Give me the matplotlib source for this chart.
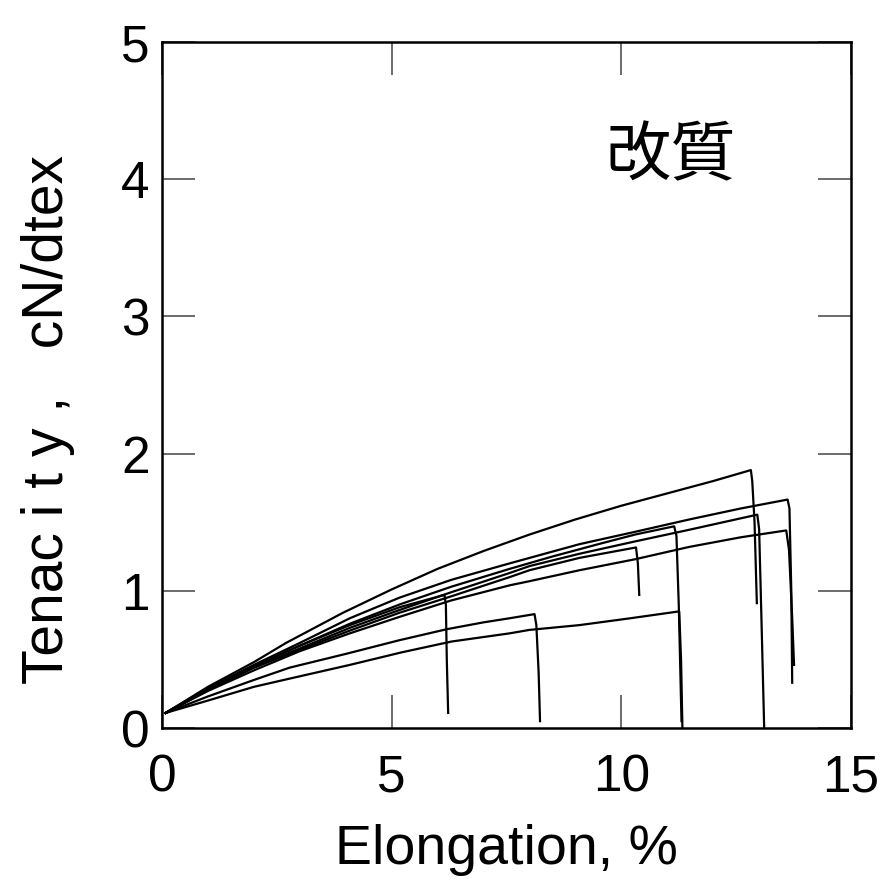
import matplotlib
matplotlib.use("Agg")
import matplotlib.pyplot as plt

# ---- data ----
curve_A_x = [0.08, 1.0, 2.0, 2.7, 3.94, 5.0, 6.0, 7.0, 8.0, 9.0, 10.0, 11.0, 12.0, 12.82, 12.85, 12.9, 12.95]
curve_A_y = [0.11, 0.30, 0.48, 0.62, 0.84, 1.01, 1.16, 1.29, 1.41, 1.52, 1.62, 1.71, 1.80, 1.88, 1.80, 1.50, 0.91]

curve_B_x = [0.08, 1.0, 2.0, 3.0, 4.09, 5.17, 6.3, 7.57, 9.09, 10.3, 11.48, 12.6, 13.62, 13.66, 13.70, 13.72]
curve_B_y = [0.11, 0.29, 0.46, 0.62, 0.80, 0.95, 1.08, 1.20, 1.34, 1.43, 1.52, 1.60, 1.665, 1.60, 1.00, 0.33]

curve_C_x = [0.08, 1.0, 2.0, 3.0, 4.09, 5.17, 6.3, 7.57, 8.0, 9.09, 10.3, 11.48, 12.96, 13.0, 13.05, 13.11]
curve_C_y = [0.11, 0.28, 0.44, 0.58, 0.73, 0.86, 0.99, 1.13, 1.18, 1.27, 1.36, 1.445, 1.555, 1.45, 0.80, 0.0]

curve_D_x = [0.08, 1.0, 2.0, 3.0, 4.09, 5.17, 6.3, 7.57, 8.0, 9.09, 10.3, 11.48, 12.6, 13.59, 13.65, 13.72, 13.76]
curve_D_y = [0.11, 0.27, 0.42, 0.56, 0.69, 0.81, 0.93, 1.04, 1.07, 1.15, 1.23, 1.32, 1.39, 1.44, 1.30, 0.80, 0.46]

curve_E_x = [0.08, 1.0, 2.0, 3.0, 4.09, 5.17, 6.3, 7.57, 8.5, 9.5, 10.3, 11.15, 11.2, 11.25, 11.31]
curve_E_y = [0.11, 0.28, 0.45, 0.60, 0.76, 0.90, 1.03, 1.16, 1.25, 1.34, 1.41, 1.47, 1.40, 0.90, 0.05]

curve_F_x = [0.08, 1.0, 2.0, 3.0, 4.09, 5.17, 6.3, 7.57, 8.0, 9.09, 10.32, 10.36, 10.39]
curve_F_y = [0.11, 0.28, 0.44, 0.57, 0.71, 0.84, 0.96, 1.10, 1.15, 1.24, 1.316, 1.20, 0.97]

curve_G_x = [0.08, 1.0, 2.0, 2.78, 4.0, 5.17, 6.2, 7.0, 7.57, 8.11, 8.15, 8.2, 8.23]
curve_G_y = [0.11, 0.23, 0.35, 0.44, 0.54, 0.64, 0.72, 0.77, 0.80, 0.83, 0.75, 0.40, 0.05]

curve_H_x = [0.08, 1.0, 2.0, 2.78, 4.09, 5.2, 6.3, 7.57, 8.0, 9.09, 10.2, 11.26, 11.3, 11.33]
curve_H_y = [0.11, 0.20, 0.30, 0.36, 0.46, 0.55, 0.63, 0.69, 0.715, 0.75, 0.80, 0.85, 0.50, 0.0]

curve_I_x = [0.08, 1.0, 2.0, 3.0, 4.09, 5.17, 6.15, 6.18, 6.2, 6.23]
curve_I_y = [0.11, 0.28, 0.45, 0.60, 0.75, 0.88, 0.97, 0.90, 0.50, 0.11]

curves = [
    (curve_A_x, curve_A_y), (curve_B_x, curve_B_y), (curve_C_x, curve_C_y),
    (curve_D_x, curve_D_y), (curve_E_x, curve_E_y), (curve_F_x, curve_F_y),
    (curve_G_x, curve_G_y), (curve_H_x, curve_H_y), (curve_I_x, curve_I_y),
]

x_ticks = [0, 5, 10, 15]
y_ticks = [0, 1, 2, 3, 4, 5]
x_label = "Elongation, %"
y_label = "Tenac i t y ,   cN/dtex"
annotation = "改質"

# ---- figure ----
plt.rcParams['font.family'] = ['Liberation Sans', 'DejaVu Sans']
fig = plt.figure(figsize=(8.94, 8.80), dpi=100)
ax = fig.add_axes([162/894, 1 - 728/880, (851-162)/894, (728-42)/880])

for xs, ys in curves:
    ax.plot(xs, ys, color='black', lw=1.6, solid_joinstyle='round')

ax.set_xlim(0, 15)
ax.set_ylim(0, 5)
ax.set_xticks(x_ticks)
ax.set_yticks(y_ticks)
ax.tick_params(axis='both', which='both', direction='in', length=24,
               width=1.1, color='#444444', labelsize=37,
               top=True, right=True)
ax.tick_params(axis='x', pad=18)
ax.tick_params(axis='y', pad=9)
for s in ax.spines.values():
    s.set_linewidth(1.8)
    s.set_color('black')

ax.set_xlabel(x_label, fontsize=40)
ax.xaxis.set_label_coords(0.5, -0.178)
ax.xaxis.label.set_va('center')
ax.set_ylabel(y_label, fontsize=41)
ax.yaxis.set_label_coords(-0.165, 0.45)
ax.yaxis.label.set_va('center')

ax.text(0.738, 0.833, annotation, transform=ax.transAxes, fontsize=47,
        family=['Noto Sans CJK JP', 'DejaVu Sans'],
        ha='center', va='center')

fig.savefig("out.png", dpi=100)
